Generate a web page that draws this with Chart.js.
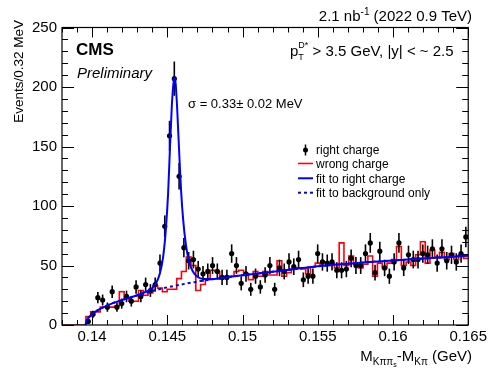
<!DOCTYPE html>
<html><head><meta charset="utf-8">
<script src="https://cdn.jsdelivr.net/npm/chart.js@4/dist/chart.umd.min.js"></script>
<style>html,body{margin:0;padding:0;background:#fff}#wrap{width:490px;height:369px;position:relative}</style>
</head><body><div id="wrap"><canvas id="c" width="490" height="369"></canvas></div>
<script>
// ---- axis definition ----
const xMin = 0.138, xMax = 0.165, nBins = 85;
const yMin = 0, yMax = 250;
const xTicks = [0.14, 0.145, 0.15, 0.155, 0.16, 0.165];
const yTicks = [0, 50, 100, 150, 200, 250];

// ---- right charge (data points), one value per bin ----
const rightCharge = [0,0,0,0,0, 3,9,23,21,15, 28,15,18,24,20, 32,24,34,29,34,
  52,83,159,207,125, 65,54,55,47,43, 45,50,45,40,40, 60,50,35,43,30,
  41,32,42,50,30, 48,45,53,49,55, 38,41,41,60,53, 52,53,46,46,47,
  56,50,50,60,69, 44,62,48,41,53, 69,48,59,55,55, 60,59,64,52,64,
  54,59,53,60,74];

// ---- wrong charge (red histogram), one value per bin ----
const wrongCharge = [0,0,0,0,0, 7,11,11,15,15, 15,16,28,22,20, 20,29,25,27,33,
  31,28,30,30,39, 45,57,50,29,34, 38,46,45,39,41, 41,45,46,43,38,
  45,41,45,42,42, 54,41,44,47,48, 47,43,49,52,50, 50,52,48,69,50,
  58,51,48,51,58, 41,52,48,52,55, 66,50,53,50,59, 70,52,63,57,61,
  55,60,55,59,56];

// ---- fit to right charge ----
const fitX = [0.13957,0.13962,0.13970,0.13985,0.14000,0.14030,0.14070,0.14130,0.14200,0.14280,
  0.14350,0.14400,0.14425,0.14450,0.14472,0.14490,0.14505,0.14518,0.14530,0.14540,
  0.14548,0.14556,0.14567,0.14580,0.14592,0.14605,0.14623,0.14645,0.14670,0.14700,
  0.14740,0.14800,0.14900,0.15000,0.15150,0.15350,0.15500,0.15700,0.15850,0.16000,
  0.16200,0.16350,0.16500];
const fitY = [0,3,5,7.3,9,11.8,14.6,18,21,24.2,
  27.5,31,35,43,57,80,110,150,184,202,
  208,202,178,142,112,89,68,53,45,40.5,
  38.6,38.6,40.2,41.8,44,47,49.3,51.5,53,54.2,
  55.8,57,58.2];

// ---- fit to background only ----
const bkgX = [0.13957,0.13962,0.13970,0.13985,0.14000,0.14030,0.14070,0.14130,0.14200,0.14280,
  0.14360,0.14460,0.14560,0.14680,0.14820,0.15000,0.15150,0.15350,0.15500,0.15700,
  0.15850,0.16000,0.16200,0.16350,0.16500];
const bkgY = [0,3,5,7.3,9,11.8,14.6,18,21,24,
  27,30.5,33.2,36,38.8,41.8,44,47,49.3,51.5,
  53,54.2,55.8,57,58.2];

// ---- build library data ----
const binW = (xMax - xMin) / nBins;
const pointsData = [];
rightCharge.forEach((v, i) => { if (v > 0) pointsData.push({x: xMin + (i + 0.5) * binW, y: v}); });
const histData = wrongCharge.map((v, i) => ({x: xMin + i * binW, y: v}));
histData.push({x: xMax, y: wrongCharge[wrongCharge.length - 1]});
const fitData = fitX.map((x, i) => ({x: x, y: fitY[i]}));
const bkgData = bkgX.map((x, i) => ({x: x, y: bkgY[i]}));

const FONT = '"Liberation Sans", Arial, Helvetica, sans-serif';
const BLUE = 'rgb(0,0,255)', RED = 'rgb(255,0,0)';

function richText(ctx, parts, x, y, align) {
  let total = 0;
  const widths = parts.map(p => { ctx.font = (p.style || '') + ' ' + p.size + 'px ' + FONT; return ctx.measureText(p.t).width; });
  parts.forEach((p, i) => { if (!p.noAdvance) total += widths[i]; });
  let cx = align === 'right' ? x - total : x;
  parts.forEach((p, i) => {
    ctx.font = (p.style || '') + ' ' + p.size + 'px ' + FONT;
    ctx.fillText(p.t, cx, y + (p.dy || 0));
    if (!p.noAdvance) cx += widths[i];
  });
}

const errPlugin = {
  id: 'errbars',
  afterDatasetDraw(chart, args) {
    if (args.index !== 2) return;
    const ctx = chart.ctx, ys = chart.scales.y, xs = chart.scales.x;
    ctx.save();
    ctx.strokeStyle = '#000'; ctx.lineWidth = 1.6;
    pointsData.forEach(p => {
      const e = Math.sqrt(p.y);
      const px = xs.getPixelForValue(p.x);
      ctx.beginPath();
      ctx.moveTo(px, ys.getPixelForValue(p.y - e));
      ctx.lineTo(px, ys.getPixelForValue(p.y + e));
      ctx.stroke();
    });
    ctx.restore();
  }
};

const framePlugin = {
  id: 'frame',
  afterDraw(chart) {
    const ctx = chart.ctx, a = chart.chartArea, xs = chart.scales.x, ys = chart.scales.y;
    ctx.save();
    ctx.strokeStyle = '#000'; ctx.lineWidth = 1.2;
    ctx.strokeRect(a.left, a.top, a.right - a.left, a.bottom - a.top);
    ctx.lineWidth = 1;
    ctx.beginPath();
    for (let k = 0; k <= 27; k++) {
      const v = 0.138 + k * 0.001;
      const px = Math.round(xs.getPixelForValue(v)) + 0.5;
      const major = (k - 2) % 5 === 0;
      const L = major ? 10 : 5;
      ctx.moveTo(px, a.bottom); ctx.lineTo(px, a.bottom - L);
      ctx.moveTo(px, a.top); ctx.lineTo(px, a.top + L);
    }
    for (let v = 0; v <= 250; v += 10) {
      const py = Math.round(ys.getPixelForValue(v)) + 0.5;
      const L = v % 50 === 0 ? 12 : 6;
      ctx.moveTo(a.left, py); ctx.lineTo(a.left + L, py);
      ctx.moveTo(a.right, py); ctx.lineTo(a.right - L, py);
    }
    ctx.stroke();

    ctx.fillStyle = '#000';
    ctx.textBaseline = 'alphabetic';
    ctx.textAlign = 'left';
    richText(ctx, [
      {t: '2.1 nb', size: 15},
      {t: '-1', size: 10, dy: -6},
      {t: ' (2022 0.9 TeV)', size: 15}
    ], 472, 21, 'right');
    ctx.font = 'bold 17px ' + FONT; ctx.fillText('CMS', 76, 55);
    ctx.font = 'italic 15px ' + FONT; ctx.fillText('Preliminary', 77, 78);
    richText(ctx, [
      {t: 'p', size: 15},
      {t: 'T', size: 9, dy: 4, noAdvance: true},
      {t: 'D*', size: 9, dy: -8},
      {t: ' > 3.5 GeV, |y| < ~ 2.5', size: 15}
    ], 290, 56, 'left');
    ctx.font = '13px ' + FONT; ctx.fillText('\u03c3 = 0.33\u00b1 0.02 MeV', 188, 108);

    const lx0 = 298, lx1 = 313, tx = 316;
    const rows = [150, 163.5, 178.3, 192.7];
    ctx.font = '12px ' + FONT;
    ctx.fillText('right charge', tx, rows[0] + 4.3);
    ctx.fillText('wrong charge', tx, rows[1] + 4.3);
    ctx.fillText('fit to right charge', tx, rows[2] + 4.3);
    ctx.fillText('fit to background only', tx, rows[3] + 4.3);
    ctx.beginPath(); ctx.arc(305.5, rows[0], 2.5, 0, Math.PI * 2); ctx.fill();
    ctx.lineWidth = 1.5; ctx.strokeStyle = '#000';
    ctx.beginPath(); ctx.moveTo(305.5, rows[0] - 5.5); ctx.lineTo(305.5, rows[0] + 5.5); ctx.stroke();
    ctx.strokeStyle = RED; ctx.lineWidth = 1.5;
    ctx.beginPath(); ctx.moveTo(lx0, rows[1]); ctx.lineTo(lx1, rows[1]); ctx.stroke();
    ctx.strokeStyle = BLUE; ctx.lineWidth = 2;
    ctx.beginPath(); ctx.moveTo(lx0, rows[2]); ctx.lineTo(lx1, rows[2]); ctx.stroke();
    ctx.setLineDash([3, 3]);
    ctx.beginPath(); ctx.moveTo(lx0, rows[3]); ctx.lineTo(lx1, rows[3]); ctx.stroke();
    ctx.setLineDash([]);

    ctx.fillStyle = '#000';
    richText(ctx, [
      {t: 'M', size: 15},
      {t: 'K\u03c0\u03c0', size: 10, dy: 4},
      {t: 's', size: 7, dy: 6},
      {t: '-M', size: 15},
      {t: 'K\u03c0', size: 10, dy: 4},
      {t: ' (GeV)', size: 15}
    ], 472, 361, 'right');
    ctx.save();
    ctx.translate(23, 20);
    ctx.rotate(-Math.PI / 2);
    ctx.font = '13.5px ' + FONT; ctx.textAlign = 'right';
    ctx.fillText('Events/0.32 MeV', 0, 0);
    ctx.restore();
    ctx.restore();
  }
};

new Chart(document.getElementById('c'), {
  type: 'line',
  data: {
    datasets: [
      {label: 'fit to right charge', data: fitData, borderColor: BLUE, borderWidth: 2, pointRadius: 0,
        cubicInterpolationMode: 'monotone', fill: false},
      {label: 'fit to background only', data: bkgData, borderColor: BLUE, borderWidth: 2, borderDash: [3, 3],
        pointRadius: 0, cubicInterpolationMode: 'monotone', fill: false},
      {label: 'right charge', data: pointsData, showLine: false, pointRadius: 2.6, pointBorderWidth: 0,
        pointBackgroundColor: '#000', borderColor: '#000'},
      {label: 'wrong charge', data: histData, borderColor: RED, borderWidth: 1.6, stepped: true,
        pointRadius: 0, fill: false}
    ]
  },
  options: {
    responsive: false, animation: false, devicePixelRatio: 1,
    layout: {padding: {left: 0, top: 27.5, right: 19, bottom: 0}},
    plugins: {legend: {display: false}, tooltip: {enabled: false}, title: {display: false}},
    scales: {
      x: {
        type: 'linear', min: xMin, max: xMax,
        grid: {display: false, drawTicks: false, tickLength: 0}, border: {display: false},
        afterBuildTicks: s => { s.ticks = xTicks.map(v => ({value: v})); },
        afterFit: s => { s.height = 44; },
        ticks: {color: '#000', font: {family: FONT, size: 15}, padding: 3, maxRotation: 0, autoSkip: false,
          callback: v => String(+(+v).toFixed(3))}
      },
      y: {
        type: 'linear', min: yMin, max: yMax,
        grid: {display: false, drawTicks: false, tickLength: 0}, border: {display: false},
        afterBuildTicks: s => { s.ticks = yTicks.map(v => ({value: v})); },
        afterFit: s => { s.width = 62; },
        ticks: {color: '#000', font: {family: FONT, size: 15}, padding: 5}
      }
    }
  },
  plugins: [errPlugin, framePlugin]
});
</script>
</body></html>
